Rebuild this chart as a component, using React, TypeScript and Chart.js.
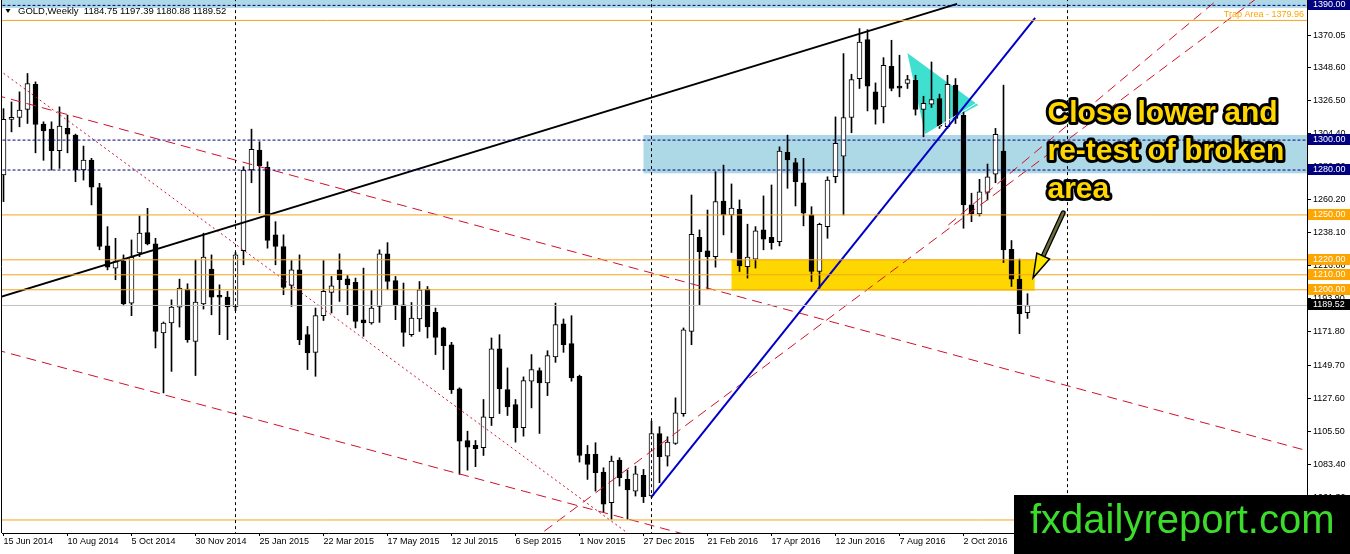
import React, { useEffect, useRef } from "react";
import { Chart, registerables } from "chart.js";

Chart.register(...registerables);

const FONT = "'Liberation Sans', Arial, sans-serif";

// ---------- data ----------
const symbol = "GOLD";
const period = "Weekly";

const dateTickIndex = [0, 8, 16, 24, 32, 40, 48, 56, 64, 72, 80, 88, 96, 104, 112, 120];
const dateLabels = [
  "15 Jun 2014", "10 Aug 2014", "5 Oct 2014", "30 Nov 2014", "25 Jan 2015", "22 Mar 2015",
  "17 May 2015", "12 Jul 2015", "6 Sep 2015", "1 Nov 2015", "27 Dec 2015", "21 Feb 2016",
  "17 Apr 2016", "12 Jun 2016", "7 Aug 2016", "2 Oct 2016",
];

const opens = [1276.7,1313.8,1315.1,1320.5,1337.3,1310.7,1307.3,1292.9,1307.8,1303.3,
1280.0,1286.7,1268.2,1229.3,1214.4,1219.3,1191.1,1224.7,1238.2,1230.7,
1171.1,1177.8,1188.4,1200.5,1165.5,1190.5,1213.8,1196.0,1195.1,1188.5,
1226.2,1280.0,1293.3,1281.8,1236.7,1228.9,1202.9,1213.3,1170.0,1158.2,
1182.7,1198.2,1213.3,1207.3,1204.9,1180.0,1177.8,1188.9,1224.0,1206.2,
1190.0,1170.0,1180.5,1200.5,1184.9,1174.5,1163.3,1133.8,1099.3,1096.0,
1094.5,1114.5,1160.5,1133.3,1123.3,1107.8,1138.9,1146.0,1137.8,1155.1,
1177.3,1164.0,1142.2,1090.0,1090.0,1078.2,1057.8,1086.2,1073.3,1065.5,
1076.0,1062.2,1104.0,1088.9,1097.3,1117.3,1172.2,1235.1,1226.0,1222.2,
1259.3,1250.0,1253.8,1215.5,1220.5,1240.0,1235.0,1232.2,1291.8,1284.9,
1271.5,1250.0,1212.2,1242.2,1275.5,1289.3,1315.1,1341.1,1367.1,1332.2,
1322.2,1349.3,1335.5,1337.8,1340.0,1320.5,1324.0,1327.8,1309.0,1336.7,
1316.7,1256.7,1250.7,1265.1,1277.3,1292.7,1227.1,1207.1,1184.75];

const highs = [1321.0,1325.5,1332.2,1344.5,1338.9,1312.2,1312.2,1322.2,1316.7,1304.0,
1296.0,1287.8,1271.1,1242.2,1234.4,1223.3,1233.3,1249.3,1254.4,1234.4,
1178.5,1193.3,1207.1,1204.0,1220.0,1237.8,1223.3,1203.3,1198.9,1225.0,
1282.2,1307.3,1298.9,1285.5,1245.5,1236.7,1219.5,1223.3,1175.5,1187.8,
1219.5,1208.9,1224.0,1209.5,1207.8,1214.5,1199.5,1226.7,1231.5,1208.9,
1204.5,1191.5,1205.5,1202.2,1187.8,1175.0,1164.9,1134.5,1105.5,1099.3,
1126.7,1167.8,1170.0,1147.8,1126.7,1141.8,1156.7,1147.8,1159.3,1191.1,
1180.5,1182.7,1143.0,1096.0,1097.8,1081.1,1088.9,1087.8,1079.5,1082.2,
1080.0,1112.2,1108.5,1101.8,1127.8,1174.5,1263.3,1240.0,1253.3,1278.9,
1283.3,1270.7,1260.0,1243.8,1242.2,1262.7,1270.0,1295.5,1303.3,1287.8,
1287.8,1255.5,1244.5,1275.5,1315.5,1357.8,1344.0,1374.5,1373.8,1338.2,
1355.1,1366.7,1356.7,1343.3,1343.3,1329.3,1352.2,1330.7,1343.3,1341.1,
1318.9,1264.5,1273.8,1284.0,1307.8,1336.7,1232.9,1220.5,1197.39];

const lows = [1258.9,1305.5,1308.9,1311.1,1291.5,1286.5,1280.0,1281.1,1291.5,1272.2,
1273.3,1256.7,1226.7,1213.3,1206.7,1189.3,1182.7,1222.2,1230.0,1161.1,
1131.1,1145.5,1175.1,1164.9,1142.7,1187.1,1183.3,1170.0,1166.7,1186.0,
1216.7,1271.5,1251.5,1227.8,1216.7,1196.7,1188.9,1163.3,1146.7,1142.2,
1179.5,1184.5,1192.2,1183.3,1174.5,1168.9,1177.0,1178.2,1200.0,1180.0,
1162.2,1168.9,1172.2,1167.8,1156.7,1146.7,1130.7,1076.7,1079.5,1081.8,
1089.3,1109.3,1117.3,1116.0,1098.2,1102.2,1121.1,1104.0,1129.3,1151.5,
1158.2,1138.9,1084.9,1073.3,1065.5,1051.5,1046.7,1068.9,1046.7,1062.2,
1057.8,1061.1,1071.1,1082.2,1096.7,1115.5,1163.3,1190.0,1200.5,1215.1,
1236.7,1224.9,1212.2,1207.8,1214.5,1226.7,1227.1,1229.3,1267.8,1256.0,
1242.7,1205.5,1201.1,1234.4,1271.5,1250.0,1304.9,1334.5,1319.5,1310.7,
1311.5,1332.9,1328.9,1334.5,1316.7,1302.2,1321.8,1307.8,1307.8,1311.1,
1241.1,1245.5,1249.3,1260.0,1271.5,1218.2,1202.2,1170.7,1180.88];

const closes = [1313.8,1315.1,1320.0,1337.8,1310.4,1306.2,1292.9,1309.3,1304.0,1280.0,
1286.7,1268.5,1228.9,1215.1,1218.9,1190.5,1221.8,1237.8,1230.7,1172.2,
1177.8,1188.4,1201.1,1166.7,1191.8,1221.8,1195.1,1195.0,1188.5,1223.3,
1280.0,1293.8,1282.9,1232.9,1228.9,1201.5,1213.3,1166.7,1157.8,1182.7,
1198.9,1202.7,1206.7,1203.3,1178.9,1177.8,1187.8,1224.0,1205.5,1190.0,
1171.5,1181.1,1200.0,1175.1,1168.2,1162.7,1133.3,1098.9,1094.9,1093.8,
1115.1,1160.5,1133.8,1121.8,1107.8,1139.3,1146.7,1137.8,1156.0,1176.7,
1163.3,1141.1,1089.3,1083.3,1077.8,1056.7,1085.5,1074.5,1066.2,1077.1,
1061.8,1104.0,1088.5,1098.2,1117.8,1173.3,1237.1,1225.5,1222.2,1258.9,
1250.0,1254.5,1216.0,1221.8,1239.3,1233.8,1231.5,1292.7,1286.7,1272.2,
1251.1,1212.2,1243.8,1273.3,1297.8,1315.1,1340.5,1365.5,1336.0,1320.5,
1350.0,1334.5,1334.7,1340.5,1320.5,1324.5,1327.1,1309.3,1337.3,1314.5,
1256.7,1250.7,1265.5,1275.5,1303.8,1226.7,1207.1,1184.0,1189.52];

const priceTicks = [1370.05, 1348.6, 1326.5, 1304.4, 1282.3, 1260.2, 1238.1, 1216.0,
  1193.9, 1171.8, 1149.7, 1127.6, 1105.5, 1083.4, 1061.3];

const navyLevels = [1390, 1300, 1280];
const orangeLevels = [1250, 1220, 1210, 1200];
const trapLevel = 1379.96;
const lowLevel = 1046.2;
const bidPrice = 1189.52;
const yearSeparators = [29, 81, 133];

const blackTrend = [{ x: -1, y: 1194.2 }, { x: 119.2, y: 1391.0 }];
const blueTrend = [{ x: 81, y: 1061.7 }, { x: 128.96, y: 1381.6 }];
const redChannelUpper = [{ x: -1, y: 1330.1 }, { x: 165, y: 1089.5 }];
const redChannelLower = [{ x: -1, y: 1160.0 }, { x: 90, y: 1029.7 }];
const redDotted = [{ x: -1, y: 1348.6 }, { x: 78, y: 1037.5 }];
const redRising = [{ x: 66, y: 1032.3 }, { x: 158, y: 1400.1 }];
const redRisingUpper = [{ x: 118.1, y: 1243.3 }, { x: 153, y: 1399.4 }];
const whiteTriangleLine = [{ x: 115.6, y: 1305.0 }, { x: 121.6, y: 1324.6 }];
const cyanTriangle = [{ x: 112.98, y: 1358.2 }, { x: 121.85, y: 1323.5 }, { x: 115.19, y: 1304.1 }];

const blueZone = { from: 80, to: 170, low: 1277.8, high: 1303.4 };
const topZone = { from: -2, to: 170, low: 1388.3, high: 1400 };
const yellowZone = { from: 91, to: 128.9, low: 1199.4, high: 1220.2 };

const noteLines = ["Close lower and", "re-test of broken", "area"];
const noteAnchor = { x: 130.5, y: 1312.1 };
const arrowFrom = { x: 132.46, y: 1251.4 };
const arrowTo = { x: 128.7, y: 1208.0 };
const logoText = "fxdailyreport.com";

// ---------- helpers ----------
const seg = (data: { x: number; y: number }[], color: string, width: number, dash: number[] = []) => ({
  type: "line" as const,
  data,
  borderColor: color,
  borderWidth: width,
  borderDash: dash,
  pointRadius: 0,
  fill: false,
  tension: 0,
  order: 0,
});

const hLine = (v: number, color: string, width: number, dash: number[] = []) =>
  seg([{ x: -2, y: v }, { x: 170, y: v }], color, width, dash);

const overlayPlugin = {
  id: "overlay",
  beforeDatasetsDraw(chart: any) {
    const { ctx, chartArea: a, scales } = chart;
    const x = scales.x, y = scales.y;
    ctx.save();
    ctx.beginPath();
    ctx.rect(a.left, a.top, a.right - a.left, a.bottom - a.top);
    ctx.clip();
    const zone = (z: any, color: string) => {
      const x0 = x.getPixelForValue(z.from), x1 = x.getPixelForValue(z.to);
      const y0 = y.getPixelForValue(z.high), y1 = y.getPixelForValue(z.low);
      ctx.fillStyle = color;
      ctx.fillRect(x0, y0, x1 - x0, y1 - y0);
    };
    zone(topZone, "#ADD8E6");
    zone(blueZone, "#ADD8E6");
    zone(yellowZone, "#FFD700");
    ctx.beginPath();
    cyanTriangle.forEach((p, i) => {
      const px = x.getPixelForValue(p.x), py = y.getPixelForValue(p.y);
      if (i === 0) ctx.moveTo(px, py); else ctx.lineTo(px, py);
    });
    ctx.closePath();
    ctx.fillStyle = "#40E0D0";
    ctx.fill();
    ctx.restore();
  },
  afterDatasetsDraw(chart: any) {
    const { ctx, chartArea: a, scales } = chart;
    const x = scales.x, y = scales.y;
    ctx.save();
    // trap label
    ctx.font = `9px ${FONT}`;
    ctx.fillStyle = "#FFA500";
    ctx.textAlign = "right";
    ctx.textBaseline = "alphabetic";
    ctx.fillText(`Trap Area - ${trapLevel.toFixed(2)}`, a.right - 3, y.getPixelForValue(trapLevel) - 3);

    // arrow
    const sx = x.getPixelForValue(arrowFrom.x), sy = y.getPixelForValue(arrowFrom.y);
    const tx = x.getPixelForValue(arrowTo.x), ty = y.getPixelForValue(arrowTo.y);
    const len = Math.hypot(tx - sx, ty - sy);
    const dx = (tx - sx) / len, dy = (ty - sy) / len;
    const headLen = 24, headHalf = 7;
    const bx = tx - dx * headLen, by = ty - dy * headLen;
    ctx.lineCap = "round";
    ctx.strokeStyle = "#000";
    ctx.lineWidth = 5;
    ctx.beginPath(); ctx.moveTo(sx, sy); ctx.lineTo(bx, by); ctx.stroke();
    ctx.strokeStyle = "#6e6e3c";
    ctx.lineWidth = 2.5;
    ctx.beginPath(); ctx.moveTo(sx, sy); ctx.lineTo(bx, by); ctx.stroke();
    ctx.beginPath();
    ctx.moveTo(tx, ty);
    ctx.lineTo(bx - dy * headHalf, by + dx * headHalf);
    ctx.lineTo(bx + dy * headHalf, by - dx * headHalf);
    ctx.closePath();
    ctx.fillStyle = "#FFE800";
    ctx.fill();
    ctx.lineWidth = 1.5;
    ctx.strokeStyle = "#000";
    ctx.stroke();

    // note text
    const nx = x.getPixelForValue(noteAnchor.x), ny = y.getPixelForValue(noteAnchor.y);
    ctx.font = `bold 30px ${FONT}`;
    ctx.textAlign = "left";
    ctx.textBaseline = "alphabetic";
    ctx.lineJoin = "round";
    ctx.lineWidth = 6;
    ctx.strokeStyle = "#000";
    ctx.fillStyle = "#FFD700";
    noteLines.forEach((t, i) => {
      ctx.strokeText(t, nx, ny + i * 38);
      ctx.fillText(t, nx, ny + i * 38);
    });
    ctx.restore();
  },
  afterDraw(chart: any) {
    const { ctx, chartArea: a, scales, width, height } = chart;
    const y = scales.y;
    ctx.save();
    // left frame
    ctx.strokeStyle = "#000";
    ctx.lineWidth = 1;
    ctx.beginPath();
    ctx.moveTo(a.left - 0.5, a.top);
    ctx.lineTo(a.left - 0.5, a.bottom);
    ctx.stroke();

    // price boxes
    ctx.font = `9px ${FONT}`;
    ctx.textBaseline = "middle";
    ctx.textAlign = "left";
    const box = (v: number, bg: string) => {
      const py = Math.round(y.getPixelForValue(v));
      ctx.fillStyle = bg;
      ctx.fillRect(a.right + 1, py - 6, width - a.right, 11);
      ctx.fillStyle = "#fff";
      ctx.fillText(v.toFixed(2), a.right + 6, py);
    };
    navyLevels.forEach((v) => box(v, "#000080"));
    orangeLevels.forEach((v) => box(v, "#FFA500"));
    box(bidPrice, "#000");

    // title
    ctx.fillStyle = "#000";
    ctx.beginPath();
    ctx.moveTo(5.5, 9); ctx.lineTo(10.5, 9); ctx.lineTo(8, 13); ctx.closePath();
    ctx.fill();
    const last = opens.length - 1;
    ctx.font = `9.5px ${FONT}`;
    ctx.fillText(
      `${symbol},${period}  ${opens[last].toFixed(2)} ${highs[last].toFixed(2)} ${lows[last].toFixed(2)} ${closes[last].toFixed(2)}`,
      18, 11.5
    );

    // logo
    ctx.fillStyle = "#000";
    ctx.fillRect(1014, 495, width - 1014, height - 495);
    ctx.fillStyle = "#3CDC2C";
    ctx.font = `40px ${FONT}`;
    ctx.textBaseline = "alphabetic";
    ctx.fillText(logoText, 1030, 533);
    ctx.restore();
  },
};

export default function App() {
  const ref = useRef<HTMLCanvasElement>(null);
  useEffect(() => {
    document.body.style.margin = "0";
    const idx = opens.map((_, i) => i);
    const datasets: any[] = [
      ...yearSeparators.map((i) => seg([{ x: i, y: 1000 }, { x: i, y: 1420 }], "#000", 1, [3, 3])),
      ...navyLevels.map((v) => hLine(v, "#000080", 1, [3, 2])),
      ...orangeLevels.map((v) => hLine(v, "#F2A41E", 1)),
      hLine(trapLevel, "#F2A41E", 1),
      hLine(lowLevel, "#F2A41E", 1),
      hLine(bidPrice, "#C0C0C0", 1),
      seg(blackTrend, "#000", 2),
      seg(blueTrend, "#0000C8", 2),
      seg(redChannelUpper, "#D0102A", 1, [10, 6]),
      seg(redChannelLower, "#D0102A", 1, [10, 6]),
      seg(redDotted, "#D0102A", 1, [2, 3]),
      seg(redRising, "#D0102A", 1, [10, 6]),
      seg(redRisingUpper, "#D0102A", 1, [10, 6]),
      seg(whiteTriangleLine, "#ffffff", 1),
      {
        type: "bar",
        data: idx.map((i) => ({ x: i, y: [opens[i], closes[i]] })),
        backgroundColor: idx.map((i) => (closes[i] >= opens[i] ? "#ffffff" : "#000000")),
        borderColor: "#000",
        borderWidth: 1,
        borderSkipped: false,
        barThickness: 5,
        minBarLength: 2,
        grouped: false,
        order: 10,
      },
      {
        type: "bar",
        data: idx.map((i) => ({ x: i, y: [lows[i], highs[i]] })),
        backgroundColor: "#000",
        borderWidth: 0,
        barThickness: 1,
        minBarLength: 1,
        grouped: false,
        order: 20,
      },
    ];

    const chart = new Chart(ref.current as HTMLCanvasElement, {
      type: "bar",
      data: { datasets },
      plugins: [overlayPlugin],
      options: {
        responsive: false,
        animation: false,
        events: [],
        layout: { padding: { left: 2, top: 0, right: 0, bottom: 0 }, autoPadding: false },
        plugins: { legend: { display: false }, tooltip: { enabled: false } },
        scales: {
          x: {
            type: "linear",
            min: -0.1875,
            max: 162.9375,
            offset: false,
            afterFit: (s: any) => {
              s.height = 21;
              s.paddingLeft = 0; s.paddingRight = 0; s.paddingTop = 0; s.paddingBottom = 0;
            },
            afterBuildTicks: (s: any) => {
              s.ticks = dateTickIndex.map((v) => ({ value: v }));
            },
            grid: { drawOnChartArea: false, drawTicks: true, tickLength: 3, color: "#000", offset: false },
            border: { display: true, color: "#000", width: 1 },
            ticks: {
              autoSkip: false,
              maxRotation: 0,
              align: "start",
              padding: 0,
              color: "#000",
              font: { family: FONT, size: 9 },
              callback: (v: any) => dateLabels[dateTickIndex.indexOf(Number(v))] ?? "",
            },
          },
          y: {
            type: "linear",
            position: "right",
            min: 1037.5,
            max: 1393.6,
            afterFit: (s: any) => {
              s.width = 43;
              s.paddingLeft = 0; s.paddingRight = 0; s.paddingTop = 0; s.paddingBottom = 0;
            },
            afterBuildTicks: (s: any) => {
              s.ticks = priceTicks.map((v) => ({ value: v }));
            },
            grid: { drawOnChartArea: false, drawTicks: true, tickLength: 4, color: "#000" },
            border: { display: true, color: "#000", width: 1 },
            ticks: {
              padding: 2,
              color: "#000",
              font: { family: FONT, size: 9 },
              callback: (v: any) => Number(v).toFixed(2),
            },
          },
        },
      } as any,
    });
    return () => chart.destroy();
  }, []);

  return (
    <div style={{ width: 1350, height: 554, background: "#fff" }}>
      <style>{"body{margin:0;}"}</style>
      <canvas ref={ref} width={1350} height={554} style={{ display: "block", width: 1350, height: 554 }} />
    </div>
  );
}
